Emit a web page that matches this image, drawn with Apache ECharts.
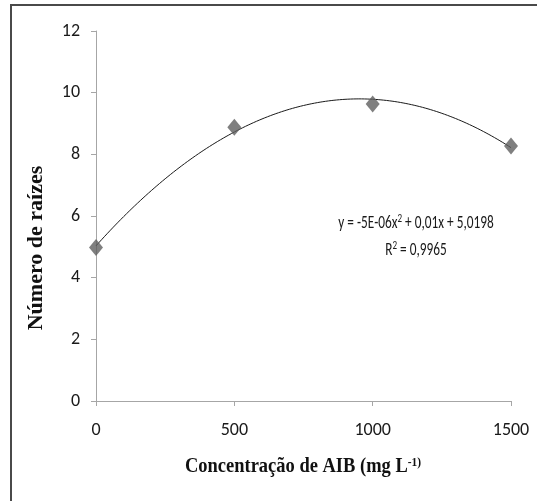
<!DOCTYPE html>
<html lang="pt">
<head>
    <meta charset="UTF-8">
    <title>Número de raízes</title>
    <style>
        *{
            margin: 0;
            padding: 0;
        }
        body{
            background: #fff;
        }
        .main{
            width: 537px;
            height: 501px;
        }
    </style>
    <script src="https://cdn.jsdelivr.net/npm/echarts@6/dist/echarts.min.js"></script>
</head>
<body>
<div class="main"></div>
<script>
    // valores
    let doses = [0, 500, 1000, 1500];
    let raizes = [4.98, 8.88, 9.63, 8.27];
    let yTicks = [0, 2, 4, 6, 8, 10, 12];
    let xTicks = [0, 500, 1000, 1500];
    let equacao = 'y = -5E-06x{s|2} + 0,01x + 5,0198';
    let r2 = 'R{s|2} = 0,9965';

    // linha de tendência polinomial (ordem 2) ajustada aos pontos
    function ajuste(xs, ys) {
        let s = [0, 0, 0, 0, 0], t = [0, 0, 0];
        xs.forEach((x, i) => {
            for (let k = 0; k < 5; k++) s[k] += Math.pow(x, k);
            for (let k = 0; k < 3; k++) t[k] += ys[i] * Math.pow(x, k);
        });
        let m = [[s[0], s[1], s[2], t[0]], [s[1], s[2], s[3], t[1]], [s[2], s[3], s[4], t[2]]];
        for (let i = 0; i < 3; i++) {
            for (let j = i + 1; j < 3; j++) {
                let f = m[j][i] / m[i][i];
                for (let k = i; k < 4; k++) m[j][k] -= f * m[i][k];
            }
        }
        let c = [0, 0, 0];
        for (let i = 2; i >= 0; i--) {
            let v = m[i][3];
            for (let k = i + 1; k < 3; k++) v -= m[i][k] * c[k];
            c[i] = v / m[i][i];
        }
        return c;
    }
    let coef = ajuste(doses, raizes);
    let tendencia = [];
    for (let x = 0; x <= 1500; x += 10) {
        tendencia.push([x, coef[0] + coef[1] * x + coef[2] * x * x]);
    }

    let fonte = "Carlito, 'Liberation Sans Narrow', 'Liberation Sans', sans-serif";
    let serif = "'Liberation Serif', 'DejaVu Serif', serif";

    let main = document.querySelector('.main');
    let chart = echarts.init(main);
    let option = {
        backgroundColor: '#fff',
        animation: false,
        grid: {
            left: 96,
            right: 26,
            top: 31,
            bottom: 100
        },
        xAxis: {
            type: 'value',
            min: 0,
            max: 1500,
            interval: 500,
            axisLine: {lineStyle: {color: '#a6a6a6', width: 1}},
            axisTick: {show: true, length: 5, lineStyle: {color: '#a6a6a6'}},
            splitLine: {show: false},
            axisLabel: {
                margin: 20,
                color: '#1a1a1a',
                fontSize: 18,
                fontFamily: fonte,
                formatter: v => xTicks.includes(v) ? String(v) : ''
            }
        },
        yAxis: {
            type: 'value',
            min: 0,
            max: 12,
            interval: 2,
            axisLine: {show: true, lineStyle: {color: '#a6a6a6', width: 1}},
            axisTick: {show: true, length: 5, lineStyle: {color: '#a6a6a6'}},
            splitLine: {show: false},
            axisLabel: {
                margin: 16,
                color: '#1a1a1a',
                fontSize: 18,
                fontFamily: fonte,
                formatter: v => yTicks.includes(v) ? String(v) : ''
            }
        },
        series: [
            {
                name: 'tendência',
                type: 'line',
                data: tendencia,
                showSymbol: false,
                lineStyle: {color: '#1a1a1a', width: 1},
                z: 2
            },
            {
                name: 'raízes',
                type: 'scatter',
                data: doses.map((d, i) => [d, raizes[i]]),
                symbol: 'diamond',
                symbolSize: [14, 17],
                itemStyle: {color: '#5f5f5f'},
                z: 3
            }
        ],
        graphic: [
            {
                type: 'rect',
                shape: {x: 11, y: 5, width: 560, height: 520},
                style: {fill: 'none', stroke: '#4a4a4a', lineWidth: 2},
                silent: true
            },
            {
                type: 'text',
                x: 416,
                y: 223,
                scaleX: 0.7,
                style: {
                    text: equacao,
                    rich: {s: {fontSize: 13, fontFamily: fonte, fill: '#1a1a1a', padding: [0, 0, 8, 0]}},
                    fontSize: 19,
                    fontFamily: fonte,
                    fill: '#1a1a1a',
                    align: 'center',
                    verticalAlign: 'middle'
                }
            },
            {
                type: 'text',
                x: 416,
                y: 250,
                scaleX: 0.7,
                style: {
                    text: r2,
                    rich: {s: {fontSize: 13, fontFamily: fonte, fill: '#1a1a1a', padding: [0, 0, 8, 0]}},
                    fontSize: 19,
                    fontFamily: fonte,
                    fill: '#1a1a1a',
                    align: 'center',
                    verticalAlign: 'middle'
                }
            },
            {
                type: 'text',
                x: 36,
                y: 248,
                rotation: Math.PI / 2,
                style: {
                    text: 'Número de raízes',
                    fontSize: 22,
                    fontWeight: 'bold',
                    fontFamily: serif,
                    fill: '#111',
                    align: 'center',
                    verticalAlign: 'middle'
                }
            },
            {
                type: 'text',
                x: 303,
                y: 467,
                scaleX: 0.88,
                style: {
                    text: 'Concentração de AIB (mg L{s|-1)}',
                    rich: {s: {fontSize: 13, fontWeight: 'bold', fontFamily: serif, fill: '#111', padding: [0, 0, 9, 0]}},
                    fontSize: 21,
                    fontWeight: 'bold',
                    fontFamily: serif,
                    fill: '#111',
                    align: 'center',
                    verticalAlign: 'middle'
                }
            }
        ]
    };
    chart.setOption(option);
</script>
</body>
</html>
